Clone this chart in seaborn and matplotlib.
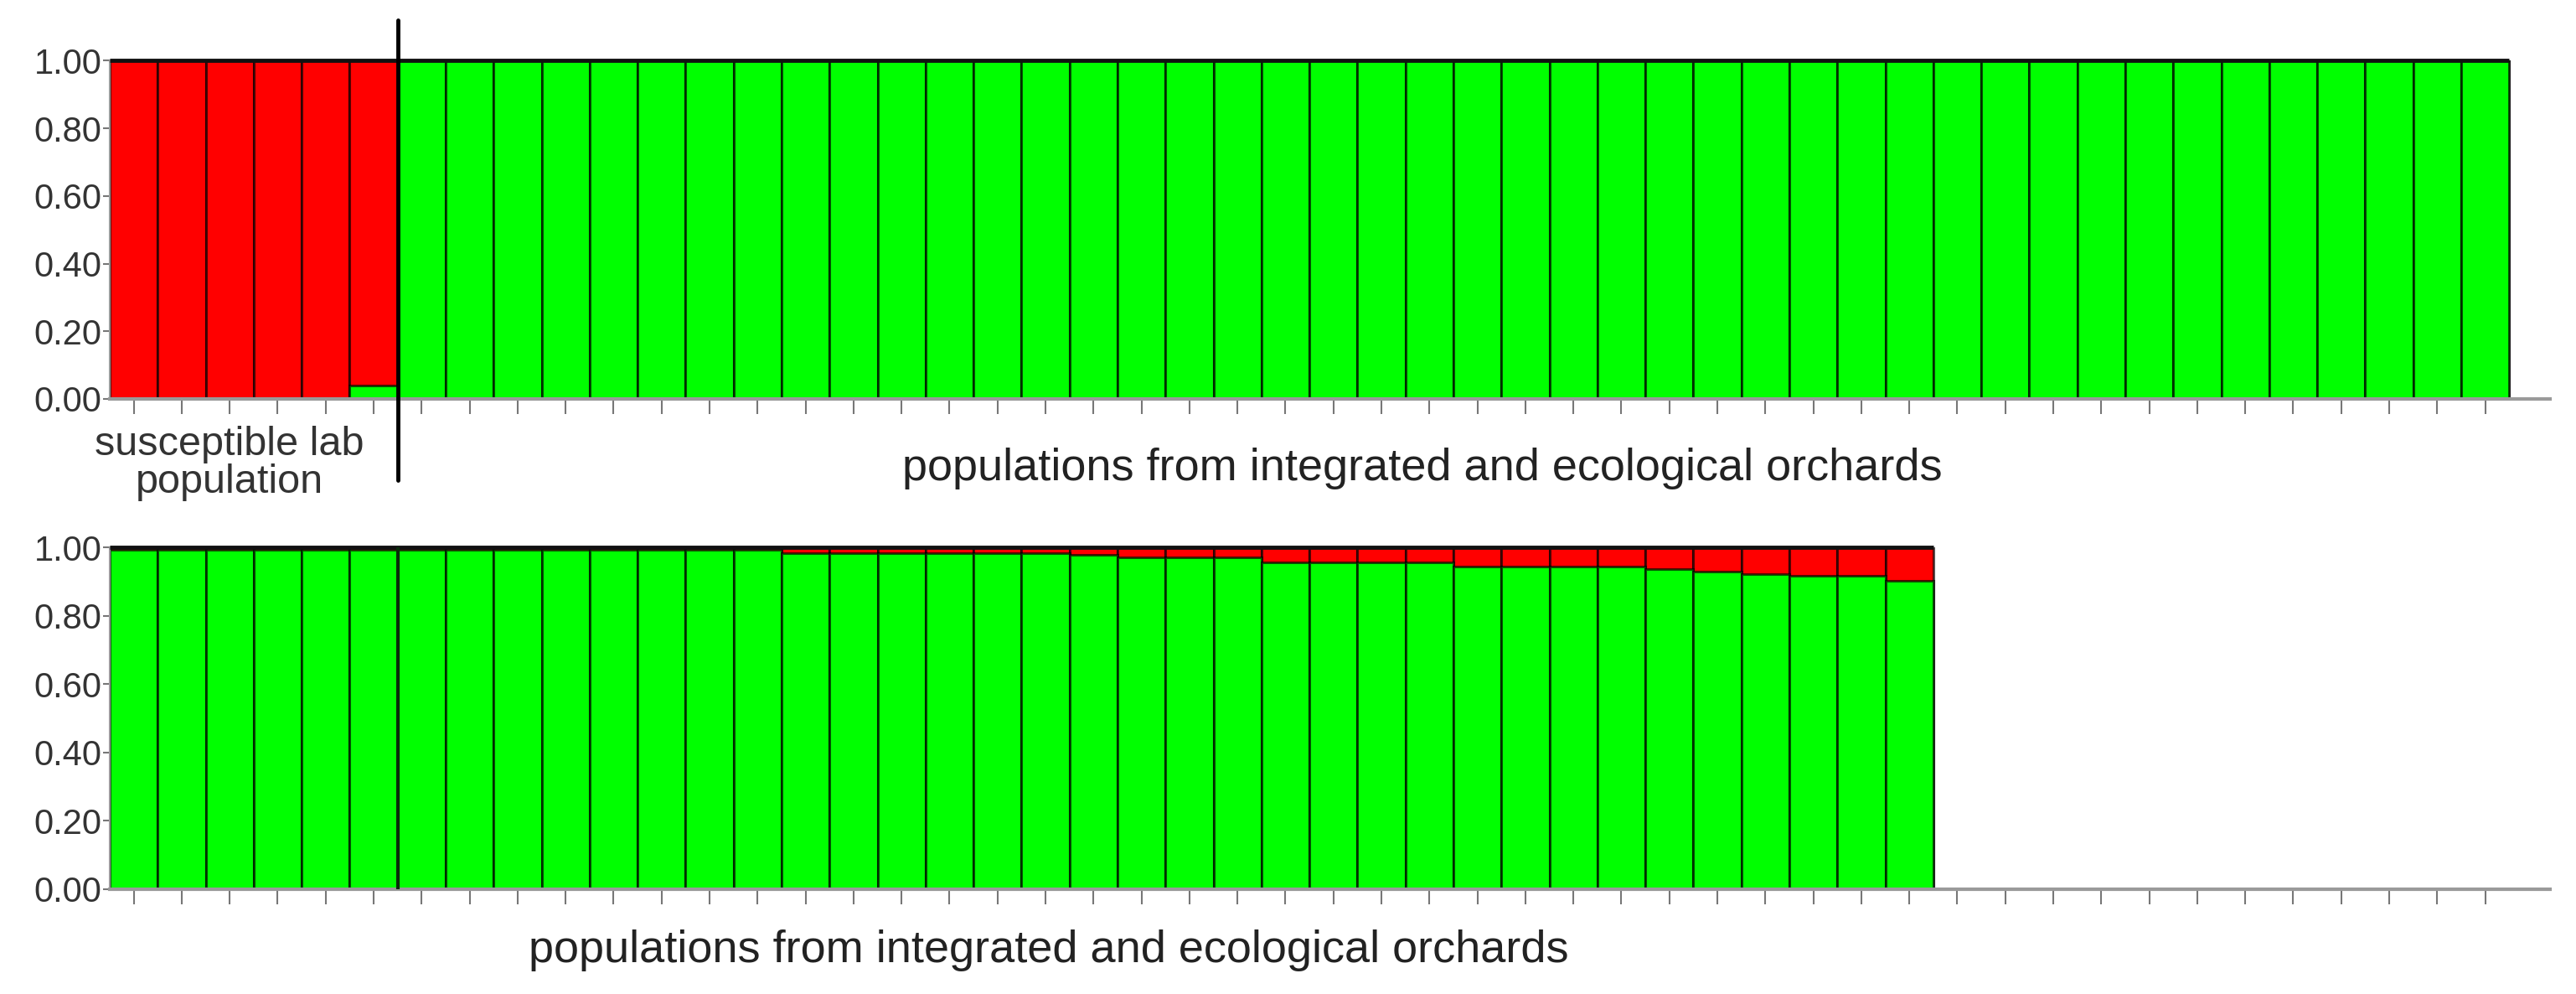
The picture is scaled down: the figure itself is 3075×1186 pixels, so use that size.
import matplotlib
matplotlib.use("Agg")
import pandas as pd
import matplotlib.pyplot as plt
import seaborn as sns


sns.set_style("white")
plt.rcParams["font.family"] = ["Liberation Sans", "DejaVu Sans"]

RED = "#ff0000"
GREEN = "#00ff00"

# 50 individual slots on both rows, first 6 = susceptible lab population
N_SLOTS = 50
N_LAB = 6

# green cluster membership per individual (red = 1 - green)
top_green = [
    0.00, 0.00, 0.00, 0.00, 0.00, 0.04,
    1.00, 1.00, 1.00, 1.00, 1.00, 1.00, 1.00, 1.00, 1.00, 1.00, 1.00,
    1.00, 1.00, 1.00, 1.00, 1.00, 1.00, 1.00, 1.00, 1.00, 1.00, 1.00,
    1.00, 1.00, 1.00, 1.00, 1.00, 1.00, 1.00, 1.00, 1.00, 1.00, 1.00,
    1.00, 1.00, 1.00, 1.00, 1.00, 1.00, 1.00, 1.00, 1.00, 1.00, 1.00,
]

bottom_green = [
    0.992, 0.992, 0.992, 0.992, 0.992, 0.992, 0.992, 0.992, 0.992, 0.992,
    0.992, 0.992, 0.992, 0.992, 0.982, 0.982, 0.982, 0.982, 0.982, 0.982,
    0.978, 0.970, 0.970, 0.970, 0.955, 0.955, 0.955, 0.955, 0.944, 0.944,
    0.944, 0.944, 0.936, 0.929, 0.922, 0.917, 0.917, 0.902,
]

y_ticks = [0.0, 0.2, 0.4, 0.6, 0.8, 1.0]
y_ticklabels = ["0.00", "0.20", "0.40", "0.60", "0.80", "1.00"]

lab_label = "susceptible lab\npopulation"
orchard_label = "populations from integrated and ecological orchards"


def draw_panel(ax, green):
    ids = [str(i + 1) for i in range(len(green))]
    order = [str(i + 1) for i in range(N_SLOTS)]
    df = pd.DataFrame({"id": ids, "total": [1.0] * len(green), "green": green})

    # red = full bar, green drawn over it from the bottom
    for col, c in [("total", RED), ("green", GREEN)]:
        sns.barplot(
            data=df, x="id", y=col, order=order, color=c,
            width=1, saturation=1, errorbar=None,
            edgecolor=(0, 0, 0, 0.65), linewidth=2.2, ax=ax
        )

    ax.hlines(1.0, -0.5, len(green) - 0.5, colors="#111111", lw=3.5, clip_on=False, zorder=5)

    ax.set_xlim(-0.5, N_SLOTS + 0.35)
    ax.set_ylim(0, 1.0)
    ax.set_yticks(y_ticks)
    ax.set_yticklabels(y_ticklabels)
    ax.set_xticks(range(N_SLOTS))
    ax.set_xticklabels([])
    ax.set_xlabel("")
    ax.set_ylabel("")

    for s in ["top", "right"]:
        ax.spines[s].set_visible(False)
    ax.spines["left"].set_color("#9a9a9a")
    ax.spines["left"].set_linewidth(1.5)
    ax.spines["bottom"].set_color("#9a9a9a")
    ax.spines["bottom"].set_linewidth(3)

    ax.tick_params(axis="x", bottom=True, direction="out", length=13, width=1.5,
                   color="#777777", pad=2)
    ax.tick_params(axis="y", left=True, direction="out", length=6, width=1.5,
                   color="#777777", labelsize=30, labelcolor="#333333", pad=1)


fig = plt.figure(figsize=(30.75, 11.86), dpi=100)
ax_top = fig.add_axes([0.0426, 0.5987, 0.9473, 0.3402])
ax_bot = fig.add_axes([0.0426, 0.1054, 0.9473, 0.3440])

draw_panel(ax_top, top_green)
draw_panel(ax_bot, bottom_green)

# group separator
sep = N_LAB - 0.5
ax_top.plot([sep, sep], [-0.24, 1.12], color="black", lw=3.5, clip_on=False, zorder=6)
ax_bot.plot([sep, sep], [0, 1], color="#0a2a0a", lw=3, zorder=6)

ax_top.text(2.0, -0.19, lab_label, ha="center", va="center", fontsize=35,
            color="#333333", linespacing=1.0)
ax_top.text(26.85, -0.206, orchard_label, ha="center", va="center", fontsize=39,
            color="#222222")
ax_bot.text(19.06, -0.18, orchard_label, ha="center", va="center", fontsize=39,
            color="#222222")

fig.savefig("out.png", dpi=100, facecolor="white")
